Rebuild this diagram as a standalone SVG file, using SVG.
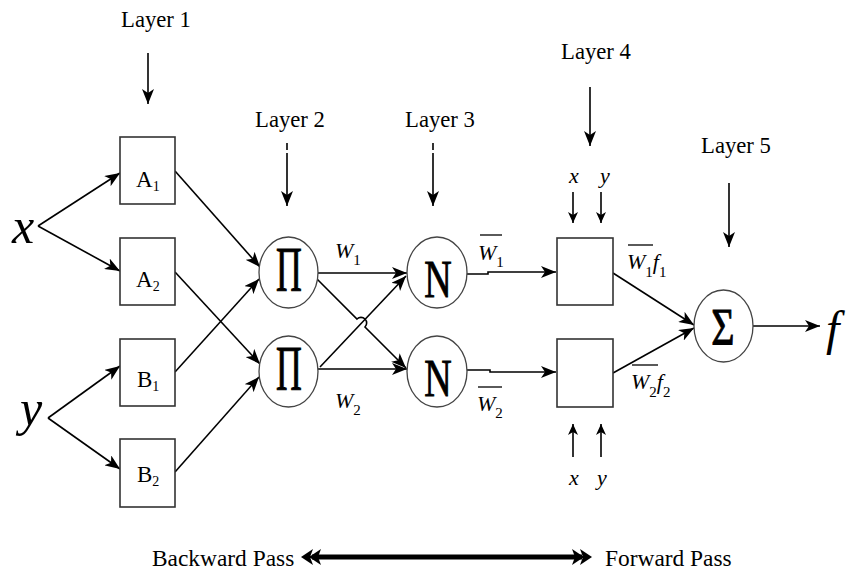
<svg xmlns="http://www.w3.org/2000/svg" width="852" height="572" viewBox="0 0 852 572" font-family="'Liberation Serif', 'Times New Roman', serif">
<defs>
<marker id="ah" markerUnits="userSpaceOnUse" markerWidth="16" markerHeight="12" refX="15" refY="6" orient="auto">
<path d="M0,0 L15,6 L0,12 L4,6 Z" fill="#000"/>
</marker>
<marker id="ahs" markerUnits="userSpaceOnUse" markerWidth="12" markerHeight="10" refX="11" refY="5" orient="auto">
<path d="M0,0 L11,5 L0,10 L3,5 Z" fill="#000"/>
</marker>
<style>
text{font-family:'Liberation Serif','Times New Roman',serif;fill:#000}
.i{font-style:italic}
.sub{font-style:normal;font-size:15px}
.sym{stroke:#000;stroke-width:0.7}
.box{fill:#fff;stroke:#333;stroke-width:1.6}
.circ{fill:#fff;stroke:#444;stroke-width:1.3}
.c{fill:none;stroke:#000;stroke-width:1.6;marker-end:url(#ah)}
.cs{fill:none;stroke:#000;stroke-width:1.6;marker-end:url(#ahs)}
.bar{fill:none;stroke:#000;stroke-width:1.3}
.pass{fill:none;stroke:#000;stroke-width:5}
</style>
</defs>
<rect width="852" height="572" fill="#fff"/>

<g id="labels">
<text x="156" y="27" font-size="22.7" text-anchor="middle">Layer 1</text>
<text x="290" y="127" font-size="22.7" text-anchor="middle">Layer 2</text>
<text x="440" y="127" font-size="22.7" text-anchor="middle">Layer 3</text>
<text x="596" y="59" font-size="22.7" text-anchor="middle">Layer 4</text>
<text x="736" y="153" font-size="22.7" text-anchor="middle">Layer 5</text>
</g>

<g id="connectors">
<path class="c" d="M148,53 L148,104"/>
<path class="c" d="M287,143 L287,206" stroke-dasharray="7 3 200"/>
<path class="c" d="M433,143 L433,206" stroke-dasharray="7 3 200"/>
<path class="c" d="M590,87 L590,146"/>
<path class="c" d="M729,183 L729,247"/>
<path class="c" d="M38,226 L120,173"/>
<path class="c" d="M38,226 L120,271"/>
<path class="c" d="M48,418 L120,366"/>
<path class="c" d="M48,418 L120,469"/>
<path class="c" d="M175,171 L260,267"/>
<path class="c" d="M175,272 L260,364"/>
<path class="c" d="M175,372 L259,279"/>
<path class="c" d="M175,472 L259,377"/>
<path class="c" d="M318,273 L407,273"/>
<path class="c" d="M318,369 L407,369"/>
<path class="c" d="M316,278 L357,319 A5.5,5.5 0 0 1 365,327 L406,368"/>
<path class="c" d="M320,367 L406,276"/>
<path class="c" d="M467,274 L488,274 L488,272 L556,272"/>
<path class="c" d="M467,370 L490,370 L490,372 L556,372"/>
<path class="c" d="M613,273 L694,325"/>
<path class="c" d="M613,373 L694,328"/>
<path class="c" d="M753,326 L820,326"/>
<path class="cs" d="M573,192 L573,223"/>
<path class="cs" d="M601,192 L601,223"/>
<path class="cs" d="M573,457 L573,424"/>
<path class="cs" d="M601,457 L601,424"/>
<path class="pass" d="M312,557 L582,557"/>
<path d="M301,557 L313,549 L310,557 L313,565 Z M309,557 L321,549 L318,557 L321,565 Z" fill="#000"/>
<path d="M592,557 L580,549 L583,557 L580,565 Z M584,557 L572,549 L575,557 L572,565 Z" fill="#000"/>
</g>

<g id="input-x"><text class="i" x="12" y="243" font-size="50">x</text></g>
<g id="input-y"><text class="i" x="20" y="425" font-size="50">y</text></g>

<g id="A1"><rect class="box" x="120" y="137" width="55" height="67"/><text x="136" y="187" font-size="23">A<tspan font-size="14" dy="4">1</tspan></text></g>
<g id="A2"><rect class="box" x="120" y="238" width="55" height="67"/><text x="136" y="287" font-size="23">A<tspan font-size="14" dy="4">2</tspan></text></g>
<g id="B1"><rect class="box" x="120" y="339" width="55" height="67"/><text x="137" y="387" font-size="23">B<tspan font-size="14" dy="4">1</tspan></text></g>
<g id="B2"><rect class="box" x="120" y="439" width="55" height="68"/><text x="137" y="482" font-size="23">B<tspan font-size="14" dy="4">2</tspan></text></g>

<g id="Pi1"><ellipse class="circ" cx="288.5" cy="272.5" rx="29.5" ry="35.5"/><text class="sym" font-size="42" text-anchor="middle" transform="translate(289,291) scale(0.85,1.5)">Π</text></g>
<g id="Pi2"><ellipse class="circ" cx="288.5" cy="371.5" rx="29.5" ry="35.5"/><text class="sym" font-size="42" text-anchor="middle" transform="translate(289,390) scale(0.85,1.5)">Π</text></g>
<g id="N1"><ellipse class="circ" cx="437" cy="272.5" rx="30" ry="35.5"/><text class="sym" font-size="40" text-anchor="middle" transform="translate(438,297) scale(0.95,1.32)">N</text></g>
<g id="N2"><ellipse class="circ" cx="437" cy="371.5" rx="30" ry="35.5"/><text class="sym" font-size="40" text-anchor="middle" transform="translate(438,396) scale(0.95,1.32)">N</text></g>

<g id="W1"><text class="i" x="335" y="258" font-size="22">W<tspan class="sub" dy="7">1</tspan></text></g>
<g id="W2"><text class="i" x="335" y="408" font-size="22">W<tspan class="sub" dy="7">2</tspan></text></g>
<g id="W1bar"><line class="bar" x1="480" y1="235" x2="502" y2="235"/><text class="i" x="478" y="260" font-size="22">W<tspan class="sub" dy="7">1</tspan></text></g>
<g id="W2bar"><line class="bar" x1="478" y1="387" x2="502" y2="387"/><text class="i" x="477" y="411" font-size="22">W<tspan class="sub" dy="7">2</tspan></text></g>

<g id="L4a"><rect class="box" x="557" y="238" width="56" height="67"/></g>
<g id="L4b"><rect class="box" x="557" y="339" width="56" height="68"/></g>
<g id="xy-top"><text class="i" x="569" y="183" font-size="22">x</text><text class="i" x="600" y="183" font-size="22">y</text></g>
<g id="xy-bottom"><text class="i" x="569" y="485" font-size="22">x</text><text class="i" x="597" y="485" font-size="22">y</text></g>

<g id="W1f1"><line class="bar" x1="628" y1="245" x2="653" y2="245"/><text class="i" x="627" y="269" font-size="22">W<tspan class="sub" dy="8">1</tspan><tspan dy="-8">f</tspan><tspan class="sub" dy="8">1</tspan></text></g>
<g id="W2f2"><line class="bar" x1="632" y1="365" x2="658" y2="365"/><text class="i" x="631" y="389" font-size="22">W<tspan class="sub" dy="8">2</tspan><tspan dy="-8">f</tspan><tspan class="sub" dy="8">2</tspan></text></g>

<g id="Sigma"><ellipse class="circ" cx="723.5" cy="326" rx="29.5" ry="36"/><text class="sym" font-size="40" text-anchor="middle" transform="translate(723,345) scale(1,1.32)">Σ</text></g>
<g id="output-f"><text class="i" x="826" y="345" font-size="48">f</text></g>

<g id="pass-labels">
<text x="152" y="566" font-size="23.4">Backward Pass</text>
<text x="605" y="566" font-size="23.4">Forward Pass</text>
</g>
</svg>
